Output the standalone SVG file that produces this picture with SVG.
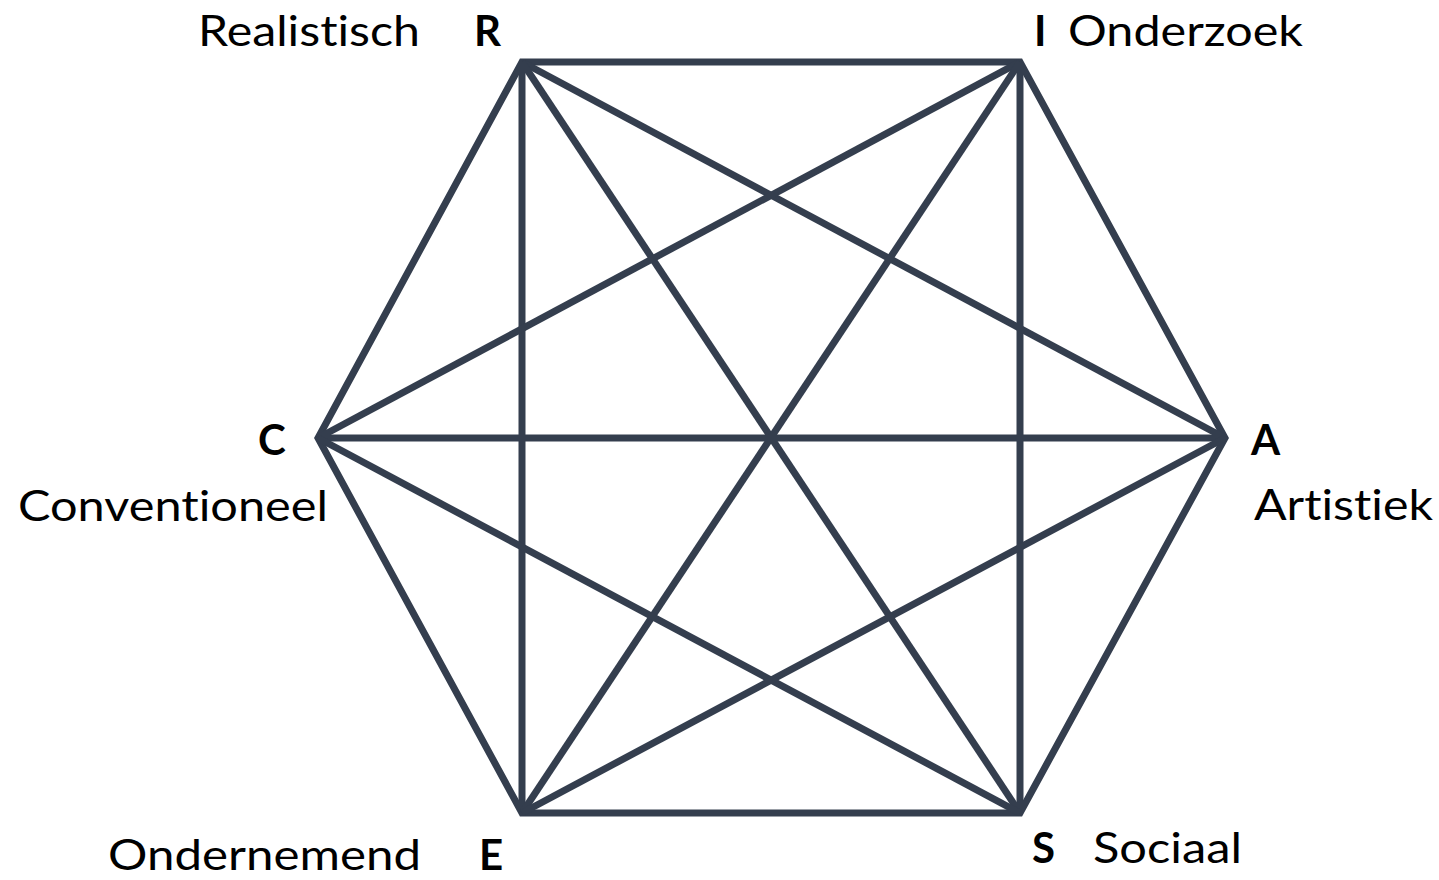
<svg xmlns="http://www.w3.org/2000/svg" width="1439" height="880" viewBox="0 0 1439 880">
<style>
.ln{stroke:#343e4e;stroke-width:7;fill:none;stroke-linejoin:miter}
.t{font-family:Lato,"Open Sans","Liberation Sans",sans-serif;font-size:42px;fill:#000;font-variant-ligatures:none;font-feature-settings:"liga" 0,"clig" 0,"dlig" 0,"calt" 0;letter-spacing:0.01px}
.b{font-weight:bold}
</style>
<rect width="1439" height="880" fill="#fff"/>
<g id="connectors">
<polygon class="ln" points="522,62 1020,62 1225,438 1020,813 522,813 318,438"/>
<line class="ln" x1="522" y1="62" x2="1225" y2="438"/>
<line class="ln" x1="522" y1="62" x2="1020" y2="813"/>
<line class="ln" x1="522" y1="62" x2="522" y2="813"/>
<line class="ln" x1="1020" y1="62" x2="318" y2="438"/>
<line class="ln" x1="1020" y1="62" x2="522" y2="813"/>
<line class="ln" x1="1020" y1="62" x2="1020" y2="813"/>
<line class="ln" x1="318" y1="438" x2="1225" y2="438"/>
<line class="ln" x1="318" y1="438" x2="1020" y2="813"/>
<line class="ln" x1="522" y1="813" x2="1225" y2="438"/>
</g>
<g id="node-R"><text class="t b" x="474" y="46">R</text><text class="t" x="198" y="46" textLength="222" lengthAdjust="spacingAndGlyphs">Realistisch</text></g>
<g id="node-I"><text class="t b" x="1034" y="46">I</text><text class="t" x="1068" y="46" textLength="235" lengthAdjust="spacingAndGlyphs">Onderzoek</text></g>
<g id="node-A"><text class="t b" x="1251" y="455">A</text><text class="t" x="1254" y="520" textLength="179" lengthAdjust="spacingAndGlyphs">Artistiek</text></g>
<g id="node-C"><text class="t b" x="258" y="455">C</text><text class="t" x="18" y="521" textLength="310" lengthAdjust="spacingAndGlyphs">Conventioneel</text></g>
<g id="node-E"><text class="t b" x="479" y="870">E</text><text class="t" x="108" y="870" textLength="313" lengthAdjust="spacingAndGlyphs">Ondernemend</text></g>
<g id="node-S"><text class="t b" x="1032" y="863">S</text><text class="t" x="1093" y="863" textLength="149" lengthAdjust="spacingAndGlyphs">Sociaal</text></g>
</svg>
